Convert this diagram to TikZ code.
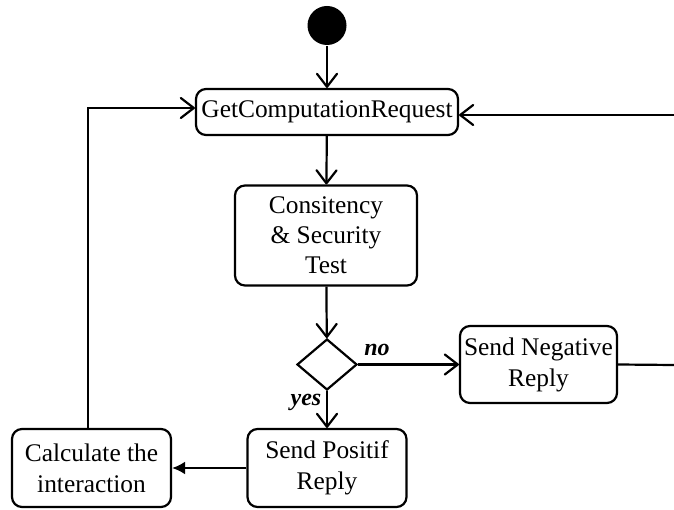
\documentclass[tikz,border=0pt]{standalone}
\usepackage{fontspec}
\setmainfont{Liberation Serif}
\usetikzlibrary{arrows.meta,shapes.geometric}
\begin{document}
\begin{tikzpicture}[x=1pt,y=-1pt,line width=2.2pt,
  box/.style={draw,rounded corners=10pt,align=center,inner sep=0pt,
    font=\fontsize{25.4}{31}\selectfont},
  lbl/.style={font=\fontsize{24}{28}\selectfont\bfseries\itshape,inner sep=0pt},
  arr/.style={-{Straight Barb[length=13pt,width=20pt,line width=2.2pt,round]}},
  farr/.style={-{Latex[length=13pt,width=13pt]}}]
\useasboundingbox (0,0) rectangle (674,510);
\node[circle,fill=black,minimum size=39pt,inner sep=0pt] (start) at (327,25.5) {};
\node[box,minimum width=262pt,minimum height=46pt] (get) at (327,112) {GetComputationRequest};
\node[box,minimum width=182pt,minimum height=100pt,font=\fontsize{25.4}{30}\selectfont] (cons) at (326,235.5) {Consitency\\ \& Security\\Test};
\node[draw,diamond,minimum width=60pt,minimum height=51pt,inner sep=0pt] (dec) at (327,364.5) {};
\node[box,minimum width=157pt,minimum height=77pt] (neg) at (538.5,364.5) {Send Negative\\Reply};
\node[box,minimum width=159pt,minimum height=78pt] (pos) at (327,468) {Send Positif\\Reply};
\node[box,minimum width=159pt,minimum height=78pt] (calc) at (91.5,468) {Calculate the\\interaction};
\node[lbl] (no) at (377,350) {no};
\node[lbl] (yes) at (306,402) {yes};
\coordinate (r1) at (674,365);
\coordinate (r2) at (674,115);
\draw[arr] (start) -- (get);
\draw[arr] (get) -- (cons);
\draw[arr] (cons) -- (dec);
\draw[arr] (dec.east) -- (neg.west);
\draw[arr] (dec.south) -- (pos.north);
\draw[farr] (pos.west) -- (calc.east);
\draw[arr] ([xshift=-3.5pt]calc.north) |- ([yshift=4pt]get.west);
\draw (neg.east) -- (r1);
\draw[arr] (r2) -- ([yshift=-3pt]get.east);
\end{tikzpicture}
\end{document}
